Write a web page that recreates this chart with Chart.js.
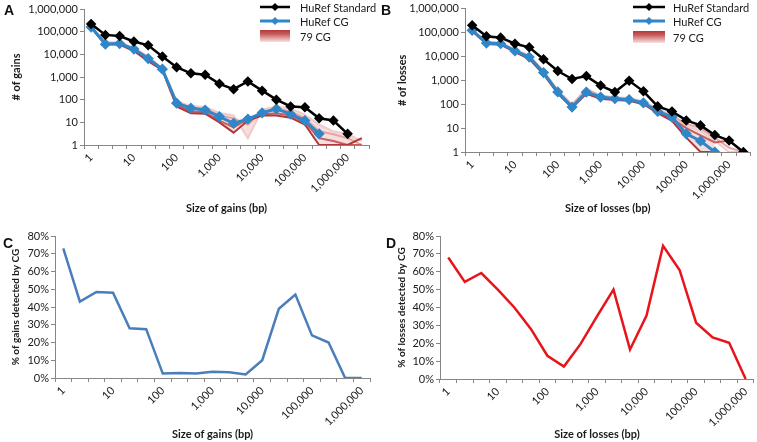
<!DOCTYPE html>
<html>
<head>
<meta charset="utf-8">
<script src="https://cdn.jsdelivr.net/npm/chart.js@4.4.1/dist/chart.umd.min.js"></script>
<style>
  html,body{margin:0;padding:0;background:#fff;}
  body{width:757px;height:442px;position:relative;overflow:hidden;font-family:Lato,"Liberation Sans",sans-serif;}
  .pane{position:absolute;}
  .letter{position:absolute;font-family:"Liberation Sans",Arial,sans-serif;font-weight:bold;font-size:14px;color:#111;line-height:1;}
</style>
</head>
<body>
<div class="pane" style="left:0;top:0;width:378px;height:220px;"><canvas id="cA" width="378" height="220"></canvas></div>
<div class="pane" style="left:378px;top:0;width:379px;height:220px;"><canvas id="cB" width="379" height="220"></canvas></div>
<div class="pane" style="left:0;top:220px;width:378px;height:222px;"><canvas id="cC" width="378" height="222"></canvas></div>
<div class="pane" style="left:378px;top:220px;width:379px;height:222px;"><canvas id="cD" width="379" height="222"></canvas></div>
<div class="letter" style="left:4px;top:3px;">A</div>
<div class="letter" style="left:381px;top:3px;">B</div>
<div class="letter" style="left:3px;top:236px;">C</div>
<div class="letter" style="left:386px;top:236px;">D</div>
<script>
// ---------- DATA ----------
// size bins (category axis), only decade labels are shown
const sizeLabels20 = ['1','','','10','','','100','','','1,000','','','10,000','','','100,000','','','1,000,000',''];
const sizeLabels19 = ['1','','','10','','','100','','','1,000','','','10,000','','','100,000','','','1,000,000'];
const logTicks = [1, 10, 100, 1000, 10000, 100000, 1000000];

// Panel A: number of gains
const gainsHuRefStandard = [220000, 72000, 64000, 37000, 25000, 8000, 2700, 1450, 1250, 500, 290, 640, 250, 100, 50, 46, 15, 12, 3.1];
const gainsHuRefCG       = [160000, 28000, 30000, 17000, 6500, 2200, 70, 42, 35, 18, 9, 14, 26, 39, 23, 12, 3.1];
const gains79CG_a = [150000, 27000, 27000, 14000, 5000, 2000, 50, 25, 24, 10, 3.5, 12, 20, 20, 16, 8, 1, 1, 1, 2];
const gains79CG_b = [155000, 29000, 29000, 15000, 6000, 2100, 60, 30, 28, 12, 6, 14, 22, 25, 20, 10, 2, 1.5, 1, 1];
const gains79CG_c = [165000, 32000, 32000, 18000, 7500, 2300, 75, 45, 40, 20, 15, 8, 30, 40, 30, 15, 4, 3, 2, 1];
const gains79CG_d = [170000, 34000, 34000, 19000, 8000, 2400, 85, 52, 48, 26, 20, 2, 36, 50, 40, 22, 8, 4, 3, 1.5];

// Panel B: number of losses
const lossesHuRefStandard = [200000, 69000, 61000, 34000, 24000, 7600, 2450, 1130, 1500, 600, 325, 960, 345, 81, 50, 21, 13, 5.1, 3, 1];
const lossesHuRefCG       = [124000, 36000, 34000, 17000, 9400, 2100, 325, 76, 320, 200, 170, 155, 113, 50, 29, 5.8, 2.9, 1];
const losses79CG_a = [115000, 33000, 31000, 15000, 8000, 1800, 280, 70, 270, 170, 150, 140, 100, 42, 20, 4, 1, 1];
const losses79CG_b = [120000, 35000, 33000, 16000, 8800, 2000, 300, 75, 300, 185, 160, 150, 108, 47, 25, 10, 5, 2.5, 3, 1];
const losses79CG_c = [135000, 38000, 36000, 18000, 10000, 2300, 350, 90, 400, 220, 185, 170, 125, 55, 32, 15, 10, 4, 1.5, 1];
const losses79CG_d = [140000, 40000, 38000, 19000, 11000, 2500, 380, 100, 450, 230, 195, 180, 135, 62, 36, 12, 8, 3, 1, 1];

// Panel C / D: % detected by CG
const pctGainsDetected  = [73, 43, 48.5, 48, 28, 27.5, 2.5, 2.8, 2.5, 3.5, 3.2, 2, 10, 39, 47, 24, 20, 0, 0];
const pctLossesDetected = [68, 54.3, 59.3, 50, 40, 28, 13, 7, 19.5, 35, 50, 16.5, 35.5, 74.5, 61, 31.5, 23.3, 20.3, 0];

// ---------- STYLE ----------
const FONT = 'Lato, "Liberation Sans", sans-serif';
const AXIS = '#868686';
const TXT = '#1a1a1a';
const BLACK = '#000000';
const BLUE = '#2F86C9';
const REDS = ['#B23838', '#C85E5E', '#E2A6A6', '#EFCBCB'];

const legendPlugin = {
  id: 'excelLegend',
  afterDraw(chart, args, o) {
    if (!o || !o.items) return;
    const ctx = chart.ctx;
    ctx.save();
    ctx.font = '11px ' + FONT;
    ctx.textBaseline = 'middle';
    ctx.textAlign = 'left';
    o.items.forEach((it, k) => {
      const ds = chart.data.datasets[it.dataset];
      const y = o.rows[k];
      if (it.type === 'line') {
        ctx.strokeStyle = ds.borderColor;
        ctx.lineWidth = ds.borderWidth;
        ctx.beginPath(); ctx.moveTo(o.x1, y); ctx.lineTo(o.x2, y); ctx.stroke();
        const cx = (o.x1 + o.x2) / 2, r = ds.pointRadius + 0.5;
        ctx.fillStyle = ds.pointBackgroundColor;
        ctx.beginPath(); ctx.moveTo(cx, y - r); ctx.lineTo(cx + r, y); ctx.lineTo(cx, y + r); ctx.lineTo(cx - r, y); ctx.closePath(); ctx.fill();
      } else {
        const g = ctx.createLinearGradient(0, y - 6, 0, y + 6);
        g.addColorStop(0, REDS[0]); g.addColorStop(0.35, REDS[1]); g.addColorStop(0.7, REDS[2]); g.addColorStop(1, '#F7E2E2');
        ctx.fillStyle = g;
        ctx.fillRect(o.x1, y - 6, o.x2 - o.x1, 12);
      }
      ctx.fillStyle = TXT;
      ctx.fillText(it.label || ds.label, o.textX, y + 1);
    });
    ctx.restore();
  }
};

function lineDs(label, data, color, width, radius) {
  return { label, data, borderColor: color, backgroundColor: color, pointBackgroundColor: color,
    pointBorderColor: color, borderWidth: width, pointRadius: radius, pointStyle: 'rectRot',
    pointHoverRadius: radius, tension: 0, fill: false, spanGaps: false };
}

function xScale(labels, height, title, titleBottom) {
  return {
    type: 'category', labels, offset: true,
    afterFit: s => { s.height = height; },
    border: { color: AXIS, width: 1 },
    grid: { display: true, offset: true, drawOnChartArea: false, drawTicks: true, tickLength: 4, color: AXIS },
    ticks: { autoSkip: false, minRotation: 45, maxRotation: 45, padding: 2, color: TXT, font: { family: FONT, size: 11 } },
    title: { display: true, text: title, color: TXT, font: { family: FONT, size: 11, weight: 'bold' }, padding: { top: 0, bottom: titleBottom } }
  };
}

function logY(width, title, titlePad) {
  return {
    type: 'logarithmic', min: 1, max: 1000000,
    afterFit: s => { s.width = width; },
    afterBuildTicks: s => { s.ticks = logTicks.map(v => ({ value: v })); },
    border: { color: AXIS, width: 1 },
    grid: { display: true, drawOnChartArea: false, drawTicks: true, tickLength: 4, color: AXIS },
    ticks: { padding: 2, color: TXT, font: { family: FONT, size: 11 }, callback: v => Number(v).toLocaleString('en-US') },
    title: { display: true, text: title, color: TXT, font: { family: FONT, size: 11, weight: 'bold' }, padding: { top: titlePad, bottom: 0 } }
  };
}

function pctY(width, title, titlePad) {
  return {
    type: 'linear', min: 0, max: 80,
    afterFit: s => { s.width = width; },
    border: { color: AXIS, width: 1 },
    grid: { display: true, drawOnChartArea: false, drawTicks: true, tickLength: 4, color: AXIS },
    ticks: { stepSize: 10, padding: 2, color: TXT, font: { family: FONT, size: 11 }, callback: v => v + '%' },
    title: { display: true, text: title, color: TXT, font: { family: FONT, size: 10, weight: 'bold' }, padding: { top: titlePad, bottom: 0 } }
  };
}

function countChart(id, labels, std, cg, reds, yW, xH, pad, yTitle, xTitle, titlePad, leg) {
  const datasets = [
    lineDs('HuRef Standard', std, BLACK, 2.5, 3.5),
    lineDs('HuRef CG', cg, BLUE, 3, 3.5),
  ];
  reds.forEach((r, i) => {
    const d = lineDs('79 CG', r, REDS[i], 2, 0);
    datasets.push(d);
  });
  // shaded spread of the 79 CG genomes: from lightest to darkest line
  datasets[5].fill = 2;
  datasets[5].backgroundColor = 'rgba(226,160,160,0.35)';
  return new Chart(document.getElementById(id), {
    type: 'line',
    data: { labels, datasets },
    options: {
      responsive: false, animation: false, devicePixelRatio: 1,
      layout: { padding: pad },
      plugins: { legend: { display: false }, tooltip: { enabled: false }, excelLegend: leg },
      scales: { x: xScale(labels, xH, xTitle, 5), y: logY(yW, yTitle, titlePad) }
    },
    plugins: [legendPlugin]
  });
}

function pctChart(id, labels, data, color, yW, xH, pad, yTitle, xTitle, titlePad) {
  return new Chart(document.getElementById(id), {
    type: 'line',
    data: { labels, datasets: [ { label: yTitle, data, borderColor: color, borderWidth: 2.5, pointRadius: 0, tension: 0, fill: false } ] },
    options: {
      responsive: false, animation: false, devicePixelRatio: 1,
      layout: { padding: pad },
      plugins: { legend: { display: false }, tooltip: { enabled: false } },
      scales: { x: xScale(labels, xH, xTitle, 1), y: pctY(yW, yTitle, titlePad) }
    }
  });
}

countChart('cA', sizeLabels20, gainsHuRefStandard, gainsHuRefCG,
  [gains79CG_a, gains79CG_b, gains79CG_c, gains79CG_d],
  84, 75, { left: 0, right: 9, top: 9, bottom: 0 }, '# of gains', 'Size of gains (bp)', 10,
  { x1: 260, x2: 290, textX: 300, rows: [7, 21, 36],
    items: [ { dataset: 0, type: 'line' }, { dataset: 1, type: 'line' }, { dataset: 2, type: 'box' } ] });

countChart('cB', sizeLabels20, lossesHuRefStandard, lossesHuRefCG,
  [losses79CG_a, losses79CG_b, losses79CG_c, losses79CG_d],
  87, 68, { left: 0, right: 3, top: 8, bottom: 0 }, '# of losses', 'Size of losses (bp)', 18,
  { x1: 255, x2: 287, textX: 295, rows: [7, 21, 37],
    items: [ { dataset: 0, type: 'line' }, { dataset: 1, type: 'line' }, { dataset: 2, type: 'box' } ] });

pctChart('cC', sizeLabels19, pctGainsDetected, '#4A7EBB', 55, 64, { left: 0, right: 8, top: 16, bottom: 0 },
  '% of gains detected by CG', 'Size of gains (bp)', 10);

pctChart('cD', sizeLabels19, pctLossesDetected, '#E8141B', 62, 63, { left: 0, right: 0, top: 16, bottom: 0 },
  '% of losses detected by CG', 'Size of losses (bp)', 18);
</script>
</body>
</html>
